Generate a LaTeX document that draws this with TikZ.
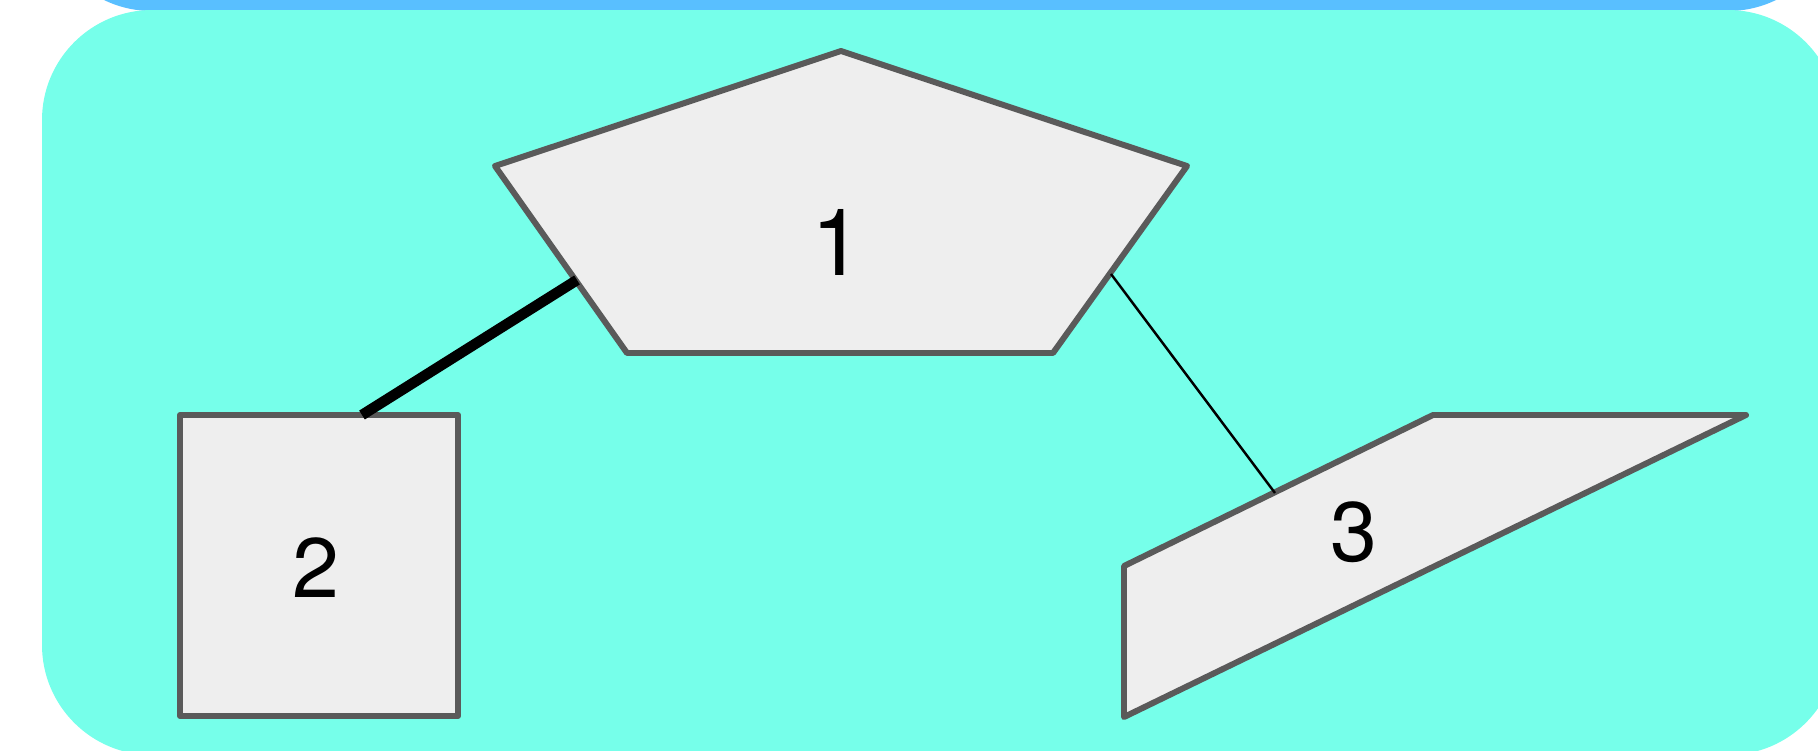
\documentclass[tikz,border=0pt]{standalone}
\usepackage{fontspec}
\setmainfont{TeX Gyre Heros}
\definecolor{aqua}{HTML}{76FFEA}
\definecolor{sky}{HTML}{59BFFF}
\definecolor{edge}{HTML}{5A5A5A}
\definecolor{face}{HTML}{EEEEEE}
\begin{document}
\begin{tikzpicture}[form/.style={draw=edge, fill=face, line width=1.7pt, line join=round},
 num/.style={inner sep=0pt, font=\fontsize{24}{24}\selectfont}]
 \useasboundingbox (0,0) rectangle (18.18,-7.5);
 \clip (0,0) rectangle (18.18,-7.5);
 \fill[sky, rounded corners=1.1cm] (0.42,-0.11) rectangle (18.38,7.35);
 \fill[aqua, rounded corners=1.1cm] (0.42,-0.10) rectangle (18.38,-7.55);
 \draw[form] (8.41,-0.51) -- (11.87,-1.66) -- (10.53,-3.53) -- (6.27,-3.53) -- (4.95,-1.66) -- cycle;
 \node[num, font=\fontsize{26.5}{26.5}\selectfont] (one) at (8.37,-2.42) {1};
 \draw[form] (1.80,-4.15) rectangle (4.58,-7.16);
 \node[num] (two) at (3.16,-5.68) {2};
 \draw[form] (11.24,-7.17) -- (11.24,-5.66) -- (14.33,-4.15) -- (17.46,-4.15) -- cycle;
 \node[num] (three) at (13.54,-5.32) {3};
 \coordinate (one-left) at (5.77,-2.80);
 \coordinate (two-top) at (3.62,-4.15);
 \coordinate (one-right) at (11.11,-2.74);
 \coordinate (three-top) at (12.75,-4.93);
 \draw[line width=3pt] (two-top) -- (one-left);
 \draw[line width=0.7pt] (one-right) -- (three-top);
\end{tikzpicture}
\end{document}
